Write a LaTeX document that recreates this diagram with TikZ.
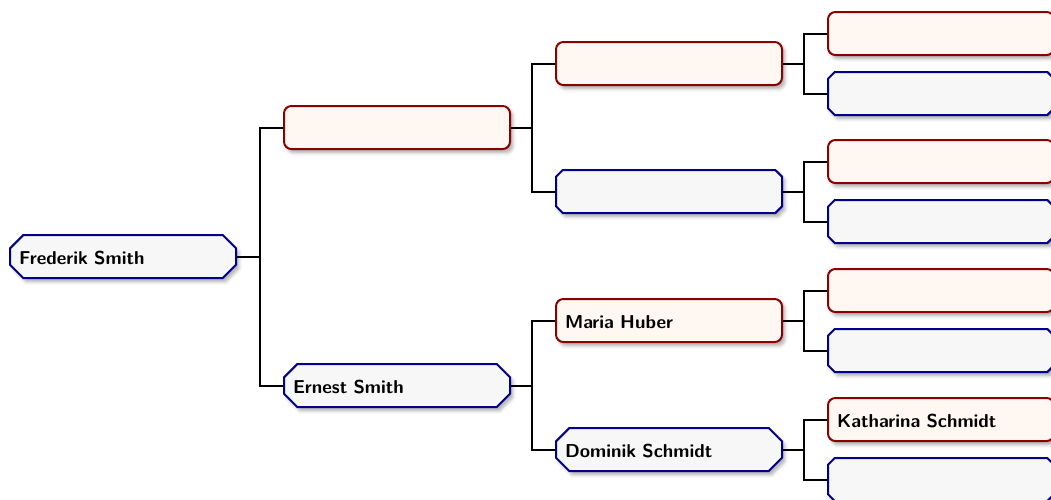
\documentclass[tikz,border=0pt]{standalone}
\usetikzlibrary{shapes.misc,shadows.blur}
\definecolor{femline}{RGB}{139,0,0}
\definecolor{femfill}{RGB}{255,247,241}
\definecolor{maleline}{RGB}{0,0,139}
\definecolor{malefill}{RGB}{247,247,248}
\newcommand\gtname[1]{\raisebox{-1.3pt}[\height][\depth]{#1}}
\tikzset{
  box/.style={minimum height=32.25pt, minimum width=169.5pt, text width=156pt, align=left,
    font=\sffamily\bfseries\fontsize{14}{16}\selectfont, line width=1.5pt,
    blur shadow={shadow xshift=2.2pt, shadow yshift=-2.8pt, shadow blur radius=2.5pt, shadow opacity=32}},
  fembox/.style={box, rectangle, rounded corners=5.5pt, draw=femline, fill=femfill, inner xsep=6.75pt, inner ysep=0pt},
  malebox/.style={box, chamfered rectangle, chamfered rectangle sep=5pt, draw=maleline, fill=malefill, inner xsep=1.75pt, inner ysep=0pt},
  conn/.style={draw=black, line width=1.5pt}
}
\begin{document}
\begin{tikzpicture}[x=0.75pt,y=-0.75pt]
\useasboundingbox (0,0) rectangle (1051,500);
% generation 0
\node[malebox] (p0) at (123,256.5) {\gtname{Frederik Smith}};
% generation 1
\node[fembox] (p1) at (397,127.5) {};
\node[malebox] (p2) at (397,385.5) {\gtname{Ernest Smith}};
% generation 2
\node[fembox] (p3) at (669,63.5) {};
\node[malebox] (p4) at (669,191.5) {};
\node[fembox] (p5) at (669,320.5) {\gtname{Maria Huber}};
\node[malebox] (p6) at (669,449.5) {\gtname{Dominik Schmidt}};
% generation 3
\node[fembox] (p7) at (941,33.5) {};
\node[malebox] (p8) at (941,93.5) {};
\node[fembox] (p9) at (941,161.5) {};
\node[malebox] (p10) at (941,221.5) {};
\node[fembox] (p11) at (941,290.5) {};
\node[malebox] (p12) at (941,350.5) {};
\node[fembox] (p13) at (941,419.5) {\gtname{Katharina Schmidt}};
\node[malebox] (p14) at (941,479.5) {};
% junctions
\coordinate (j0) at (260,256.5);
\coordinate (j1) at (532,127.5);
\coordinate (j2) at (532,385.5);
\coordinate (j3) at (804,63.5);
\coordinate (j4) at (804,191.5);
\coordinate (j5) at (804,320.5);
\coordinate (j6) at (804,449.5);
% connectors
\draw[conn] (p0.east) -- (j0);
\draw[conn] (p1.west) -| (j0) |- (p2.west);
\draw[conn] (p1.east) -- (j1);
\draw[conn] (p3.west) -| (j1) |- (p4.west);
\draw[conn] (p2.east) -- (j2);
\draw[conn] (p5.west) -| (j2) |- (p6.west);
\draw[conn] (p3.east) -- (j3);
\draw[conn] (p7.west) -| (j3) |- (p8.west);
\draw[conn] (p4.east) -- (j4);
\draw[conn] (p9.west) -| (j4) |- (p10.west);
\draw[conn] (p5.east) -- (j5);
\draw[conn] (p11.west) -| (j5) |- (p12.west);
\draw[conn] (p6.east) -- (j6);
\draw[conn] (p13.west) -| (j6) |- (p14.west);
\end{tikzpicture}
\end{document}
